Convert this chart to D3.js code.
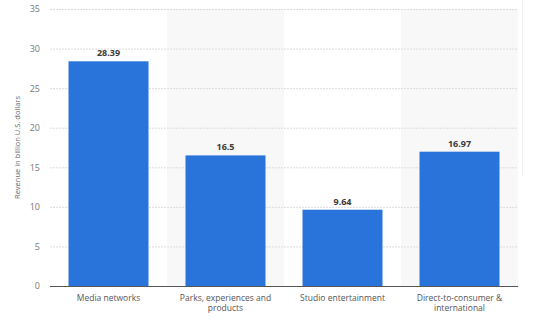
<!DOCTYPE html>
<html><head><meta charset="utf-8">
<script src="https://cdn.jsdelivr.net/npm/d3@7"></script>
<style>body{margin:0;background:#fff;}svg{display:block;font-family:"Open Sans",Arial,sans-serif;}</style>
</head><body><svg id="c" width="534" height="336"></svg>
<script>
const categories = ["Media networks", "Parks, experiences and products", "Studio entertainment", "Direct-to-consumer & international"];
const categoryLines = [["Media networks"], ["Parks, experiences and", "products"], ["Studio entertainment"], ["Direct-to-consumer &", "international"]];
const values = [28.39, 16.5, 9.64, 16.97];
const valueLabels = ["28.39", "16.5", "9.64", "16.97"];
const yTicks = [0, 5, 10, 15, 20, 25, 30, 35];
const yTitle = "Revenue in billion U.S. dollars";

const svg = d3.select("#c");
const m = {l: 50, r: 16, t: 9, b: 50};
const W = 534, H = 336;
const x = d3.scaleBand().domain(categories).range([m.l, W - m.r]).paddingInner(0).paddingOuter(0);
const y = d3.scaleLinear().domain([0, 35]).range([H - m.b, m.t]);

// alternating band shading
svg.append("g").selectAll("rect").data(categories.filter((d, i) => i % 2 === 1)).join("rect")
  .attr("x", d => x(d)).attr("y", y(35)).attr("width", x.bandwidth()).attr("height", y(0) - y(35))
  .attr("fill", "#f8f8f8");

// gridlines
svg.append("g").selectAll("line").data(yTicks.filter(t => t > 0)).join("line")
  .attr("x1", m.l).attr("x2", W - m.r).attr("y1", d => y(d) + 0.5).attr("y2", d => y(d) + 0.5)
  .attr("stroke", "#dcdcdc").attr("stroke-dasharray", "2,1").attr("stroke-width", 1);

// faint right edge line
svg.append("line").attr("x1", 522.5).attr("x2", 522.5).attr("y1", 0).attr("y2", 175)
  .attr("stroke", "#f0f0f0").attr("stroke-width", 1);

// y tick labels
const yAxis = d3.axisLeft(y).tickValues(yTicks).tickSize(0).tickPadding(10);
const ga = svg.append("g").attr("transform", `translate(${m.l},0)`).call(yAxis);
ga.select(".domain").remove();
ga.selectAll("text").attr("fill", "#777").attr("font-size", 9).attr("font-family", "'Open Sans',Arial,sans-serif");

// bars
const bw = 80;
svg.append("g").selectAll("rect").data(values).join("rect")
  .attr("x", (d, i) => x(categories[i]) + (x.bandwidth() - bw) / 2)
  .attr("y", d => y(d)).attr("width", bw).attr("height", d => y(0) - y(d))
  .attr("fill", "#2874db");

// value labels
svg.append("g").selectAll("text").data(values).join("text")
  .attr("x", (d, i) => x(categories[i]) + x.bandwidth() / 2)
  .attr("y", d => y(d) - 5)
  .attr("text-anchor", "middle").attr("font-size", 9).attr("font-weight", "bold").attr("fill", "#3a3a3a")
  .text((d, i) => valueLabels[i]);

// baseline
svg.append("line").attr("x1", m.l).attr("x2", W - m.r).attr("y1", y(0) + 0.5).attr("y2", y(0) + 0.5)
  .attr("stroke", "#555").attr("stroke-width", 1);

// category labels
const xl = svg.append("g").selectAll("text").data(categories).join("text")
  .attr("x", d => x(d) + x.bandwidth() / 2).attr("y", y(0) + 15)
  .attr("text-anchor", "middle").attr("font-size", 8.5).attr("fill", "#555");
xl.each(function(d, i) {
  d3.select(this).selectAll("tspan").data(categoryLines[i]).join("tspan")
    .attr("x", x(d) + x.bandwidth() / 2).attr("dy", (t, j) => j === 0 ? 0 : 9.5).text(t => t);
});

// y title
svg.append("text").attr("transform", `translate(20,${(y(0) + y(35)) / 2}) rotate(-90)`)
  .attr("text-anchor", "middle").attr("font-size", 7.5).attr("fill", "#666").text(yTitle);
</script></body></html>
